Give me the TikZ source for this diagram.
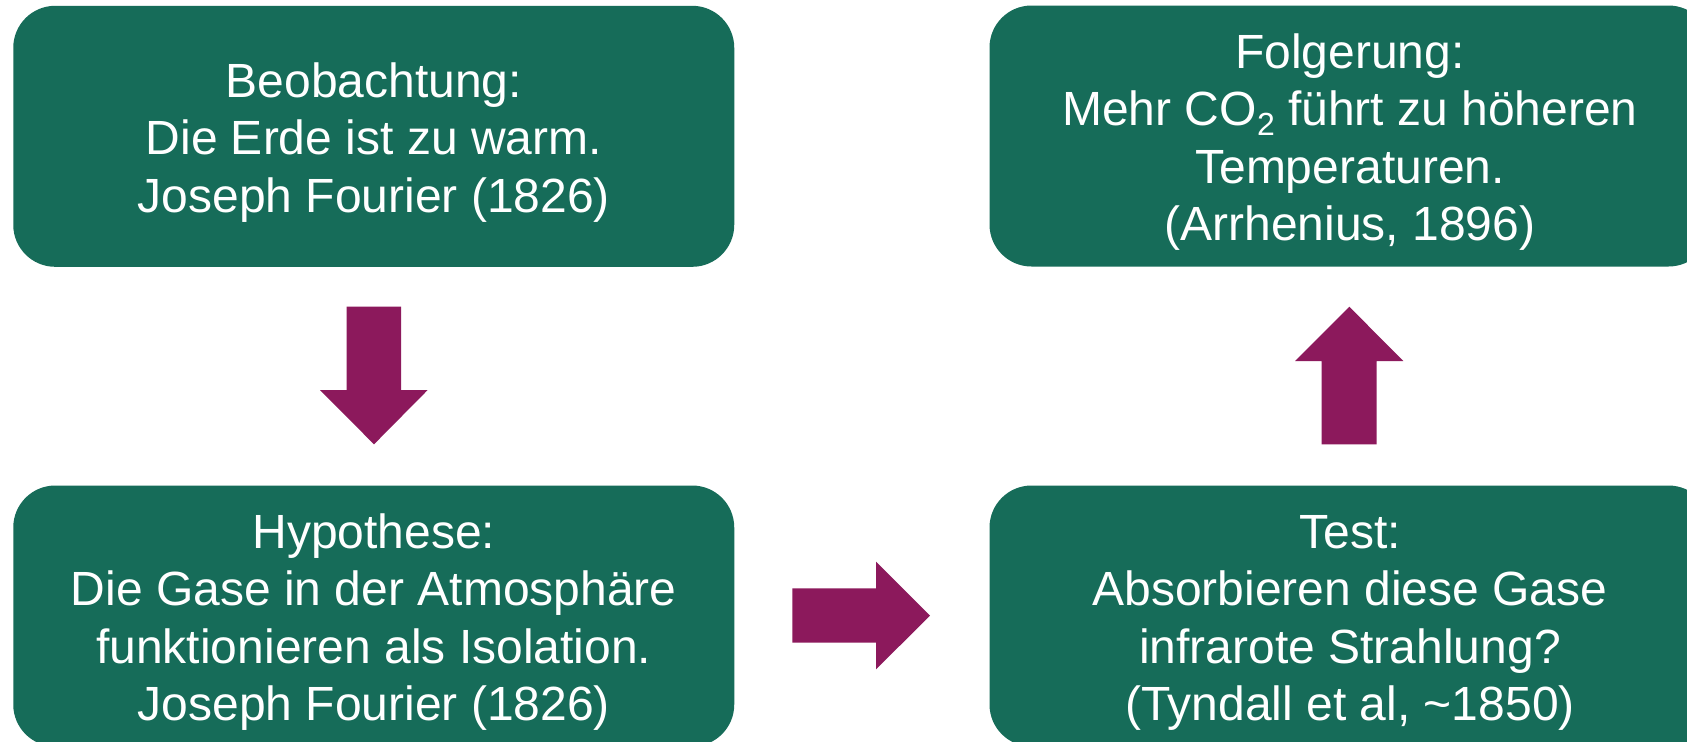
\documentclass[tikz,border=0pt]{standalone}
\usepackage{fontspec}
\setmainfont{Liberation Sans}
\definecolor{boxgreen}{RGB}{22,108,89}
\definecolor{arrowpurple}{RGB}{140,25,92}
\newcommand{\topstrut}{\rule{0pt}{23.4pt}}
\newcommand{\subtwo}{\raisebox{-5pt}{\fontsize{16pt}{16pt}\selectfont 2}}
\tikzset{
  stepbox/.style={fill=boxgreen, draw=none, rounded corners=21pt,
    minimum width=360.5pt, minimum height=130.5pt, inner sep=0pt,
    text=white, align=center,
    font=\fontsize{24pt}{28.75pt}\selectfont},
  blockarrow/.style={fill=arrowpurple, draw=none}
}
\begin{document}
\begin{tikzpicture}[x=0.5pt,y=-0.5pt]
\useasboundingbox (0,0) rectangle (1687,741);
\fill[white] (0,0) rectangle (1687,741);
\clip (0,0) rectangle (1687,741);
\node[stepbox] (beob) at (373.75,136.3) {\topstrut Beobachtung:\\Die Erde ist zu warm.\\Joseph Fourier (1826)};
\node[stepbox] (folg) at (1350,136) {\topstrut Folgerung:\\Mehr CO\subtwo{} führt zu höheren\\Temperaturen.\\(Arrhenius, 1896)};
\node[stepbox] (hypo) at (373.75,616) {\topstrut Hypothese:\\Die Gase in der Atmosphäre\\funktionieren als Isolation.\\Joseph Fourier (1826)};
\node[stepbox] (test) at (1350,616) {\topstrut Test:\\Absorbieren diese Gase\\infrarote Strahlung?\\(Tyndall et al, \char`~1850)};
% down arrow
\fill[blockarrow] (346.7,306.7) -- (401,306.7) -- (401,390) -- (427.7,390) -- (374,444.3) -- (320,390) -- (346.7,390) -- cycle;
% right arrow
\fill[blockarrow] (792.3,588.3) -- (876,588.3) -- (876,561.7) -- (930,615.7) -- (876,669.3) -- (876,642.7) -- (792.3,642.7) -- cycle;
% up arrow
\fill[blockarrow] (1321.7,444.3) -- (1321.7,361) -- (1295,361) -- (1349.3,306.7) -- (1403.3,361) -- (1376.7,361) -- (1376.7,444.3) -- cycle;
\end{tikzpicture}
\end{document}
